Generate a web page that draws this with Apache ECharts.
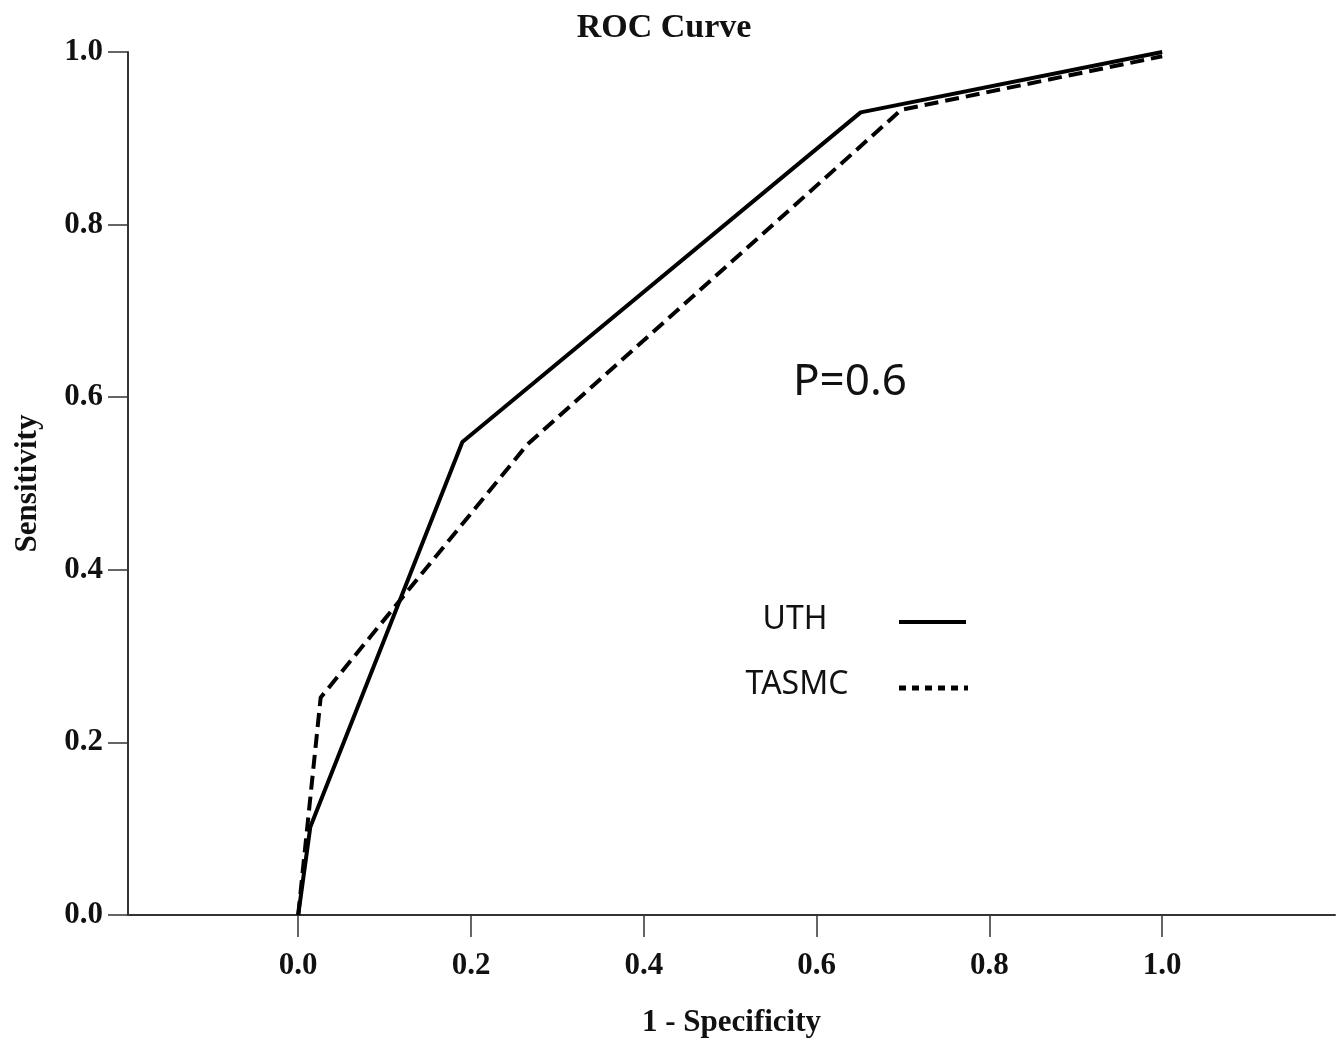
<!DOCTYPE html>
<html>
<head>
<meta charset="utf-8">
<script src="https://cdn.jsdelivr.net/npm/echarts@6/dist/echarts.min.js"></script>
<style>
html,body{margin:0;padding:0;background:#fff;}
#chart{width:1342px;height:1044px;}
</style>
</head>
<body>
<div id="chart"></div>
<script>
// Data
const xTicks = [0, 0.2, 0.4, 0.6, 0.8, 1.0];
const uthFpr = [0, 0.014, 0.190, 0.651, 1.0];
const uthTpr = [0, 0.102, 0.548, 0.930, 1.0];
const tasmcFpr = [0, 0.026, 0.265, 0.698, 1.0];
const tasmcTpr = [0, 0.252, 0.545, 0.933, 0.995];
const seriesNames = ['UTH', 'TASMC'];
const titleText = 'ROC Curve';
const xName = '1 - Specificity';
const yName = 'Sensitivity';
const pText = 'P=0.6';

const zip = (a, b) => a.map((v, i) => [v, b[i]]);
const serif = 'Liberation Serif';
const chart = echarts.init(document.getElementById('chart'));

chart.setOption({
  animation: false,
  backgroundColor: '#fff',
  title: {
    text: titleText,
    left: 659, top: 6, textAlign: 'center',
    textStyle: { fontFamily: serif, fontWeight: 'bold', fontSize: 34, color: '#111' }
  },
  grid: { left: 128, right: 7, top: 52, bottom: 129, outerBoundsMode: 'none', containLabel: false },
  xAxis: {
    type: 'value', min: -0.197, max: 1.2,
    name: xName, nameLocation: 'middle', nameGap: 92,
    nameTextStyle: { fontFamily: serif, fontWeight: 'bold', fontSize: 31, color: '#111' },
    axisLine: { show: true, onZero: false, lineStyle: { color: '#333', width: 2 } },
    axisTick: { show: true, customValues: xTicks, length: 22, lineStyle: { color: '#333', width: 1.5 } },
    axisLabel: { customValues: xTicks, margin: 35, formatter: v => v.toFixed(1),
      fontFamily: serif, fontWeight: 'bold', fontSize: 31, color: '#111' },
    splitLine: { show: false }
  },
  yAxis: {
    type: 'value', min: 0, max: 1, interval: 0.2,
    name: yName, nameLocation: 'middle', nameGap: 85,
    nameTextStyle: { fontFamily: serif, fontWeight: 'bold', fontSize: 31, color: '#111' },
    axisLine: { show: true, onZero: false, lineStyle: { color: '#333', width: 2 } },
    axisTick: { show: true, length: 20, lineStyle: { color: '#333', width: 1.5 } },
    axisLabel: { margin: 25, formatter: v => v.toFixed(1), padding: [12, 0, 0, 0],
      fontFamily: serif, fontWeight: 'bold', fontSize: 31, color: '#111' },
    splitLine: { show: false }
  },
  series: [
    {
      name: seriesNames[0], type: 'line', data: zip(uthFpr, uthTpr),
      showSymbol: false, lineStyle: { color: '#000', width: 4 }, z: 3
    },
    {
      name: seriesNames[1], type: 'line', data: zip(tasmcFpr, tasmcTpr),
      showSymbol: false, lineStyle: { color: '#000', width: 4, type: [14, 7] }, z: 2
    }
  ],
  graphic: [
    { type: 'text', left: 793, top: 360,
      style: { text: pText, fontFamily: 'Noto Sans', fontSize: 44, fill: '#111' } },
    { type: 'text', x: 795, y: 620,
      style: { text: seriesNames[0], fontFamily: 'Noto Sans', fontSize: 32, fill: '#111',
        align: 'center', verticalAlign: 'middle' } },
    { type: 'text', x: 797, y: 685,
      style: { text: seriesNames[1], fontFamily: 'Noto Sans', fontSize: 32, fill: '#111',
        align: 'center', verticalAlign: 'middle' } },
    { type: 'line', shape: { x1: 899, y1: 622, x2: 966, y2: 622 },
      style: { stroke: '#000', lineWidth: 4 } },
    { type: 'line', shape: { x1: 899, y1: 688, x2: 968, y2: 688 },
      style: { stroke: '#000', lineWidth: 5, lineDash: [7, 6] } }
  ]
});
</script>
</body>
</html>
